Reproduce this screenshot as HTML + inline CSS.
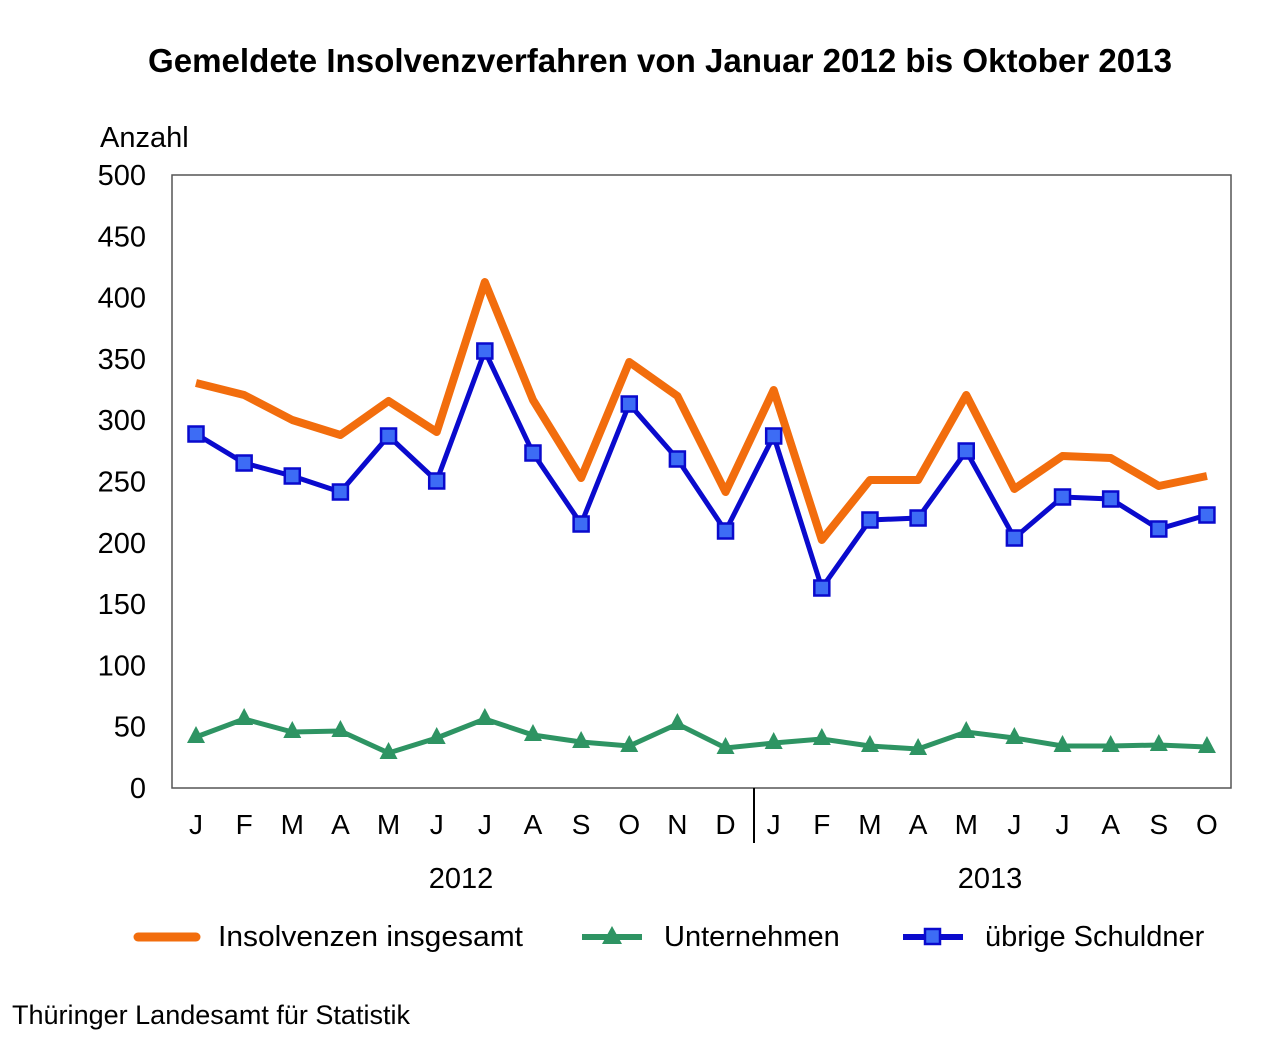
<!DOCTYPE html>
<html><head><meta charset="utf-8"><style>
body{margin:0;background:#fff;}
svg{display:block;font-family:"Liberation Sans",Arial,sans-serif;}
</style></head><body>
<svg id="s" width="1280" height="1038" xmlns="http://www.w3.org/2000/svg">
<rect width="1280" height="1038" fill="#fff"/>
<text x="660" y="72" text-anchor="middle" font-size="33" font-weight="bold" fill="#000" textLength="1024" lengthAdjust="spacingAndGlyphs">Gemeldete Insolvenzverfahren von Januar 2012 bis Oktober 2013</text>
<text x="100" y="147" font-size="29" fill="#000">Anzahl</text>
<rect x="172" y="175" width="1059" height="613" fill="none" stroke="#555" stroke-width="1.5"/>
<line x1="754" y1="788" x2="754" y2="843" stroke="#000" stroke-width="2"/>
<text x="461" y="888" text-anchor="middle" font-size="29">2012</text>
<text x="990" y="888" text-anchor="middle" font-size="29">2013</text>
<line x1="138" y1="937" x2="196" y2="937" stroke="#f26d0d" stroke-width="9" stroke-linecap="round"/>
<text x="218" y="946" font-size="29" textLength="305" lengthAdjust="spacingAndGlyphs">Insolvenzen insgesamt</text>
<line x1="582" y1="937" x2="642" y2="937" stroke="#2e9463" stroke-width="6"/>
<polygon points="612,926 622,944 602,944" fill="#2e9463"/>
<text x="664" y="946" font-size="29">Unternehmen</text>
<line x1="903" y1="937" x2="963" y2="937" stroke="#0a0acd" stroke-width="6"/>
<rect x="925" y="929" width="15" height="15" fill="#3d6cf5" stroke="#0a0acd" stroke-width="2.5"/>
<text x="985" y="946" font-size="29">übrige Schuldner</text>
<text x="12" y="1024" font-size="27" textLength="398" lengthAdjust="spacingAndGlyphs">Thüringer Landesamt für Statistik</text>
<g id="g"></g>
</svg>
<script>
var g=document.getElementById('g'),h='';
for(var v=0;v<=500;v+=50){var y=788-v*1.226;h+='<text x="146" y="'+(y+10)+'" text-anchor="end" font-size="29">'+v+'</text>';}
var L='JFMAMJJASONDJFMAMJJASO';
function X(i){return 196+i*48.14;}
for(var i=0;i<22;i++)h+='<text x="'+X(i)+'" y="834" text-anchor="middle" font-size="28">'+L[i]+'</text>';
var o=[383,395,420,435,401,432,282,400,478,362,396,492,390,540,480,480,395,489,456,458,486,476];
var b=[434,463,476,492,436,481,351,453,524,404,459,531,436,588,520,518,451,538,497,499,529,515];
var gr=[737,719,732,731,753,738,719,735,742,746,724,748,743,739,746,749,732,738,746,746,745,747];
function pts(a){return a.map(function(y,i){return X(i)+','+y;}).join(' ');}
h+='<polyline points="'+pts(o)+'" fill="none" stroke="#f26d0d" stroke-width="8" stroke-linejoin="round"/>';
h+='<polyline points="'+pts(b)+'" fill="none" stroke="#0a0acd" stroke-width="5"/>';
h+='<polyline points="'+pts(gr)+'" fill="none" stroke="#2e9463" stroke-width="5"/>';
b.forEach(function(y,i){h+='<rect x="'+(X(i)-7.5)+'" y="'+(y-7.5)+'" width="15" height="15" fill="#3d6cf5" stroke="#0a0acd" stroke-width="2.5"/>';});
gr.forEach(function(y,i){var x=X(i);h+='<polygon points="'+x+','+(y-11)+' '+(x+9)+','+(y+6)+' '+(x-9)+','+(y+6)+'" fill="#2e9463"/>';});
g.innerHTML=h;
</script>
</body></html>
